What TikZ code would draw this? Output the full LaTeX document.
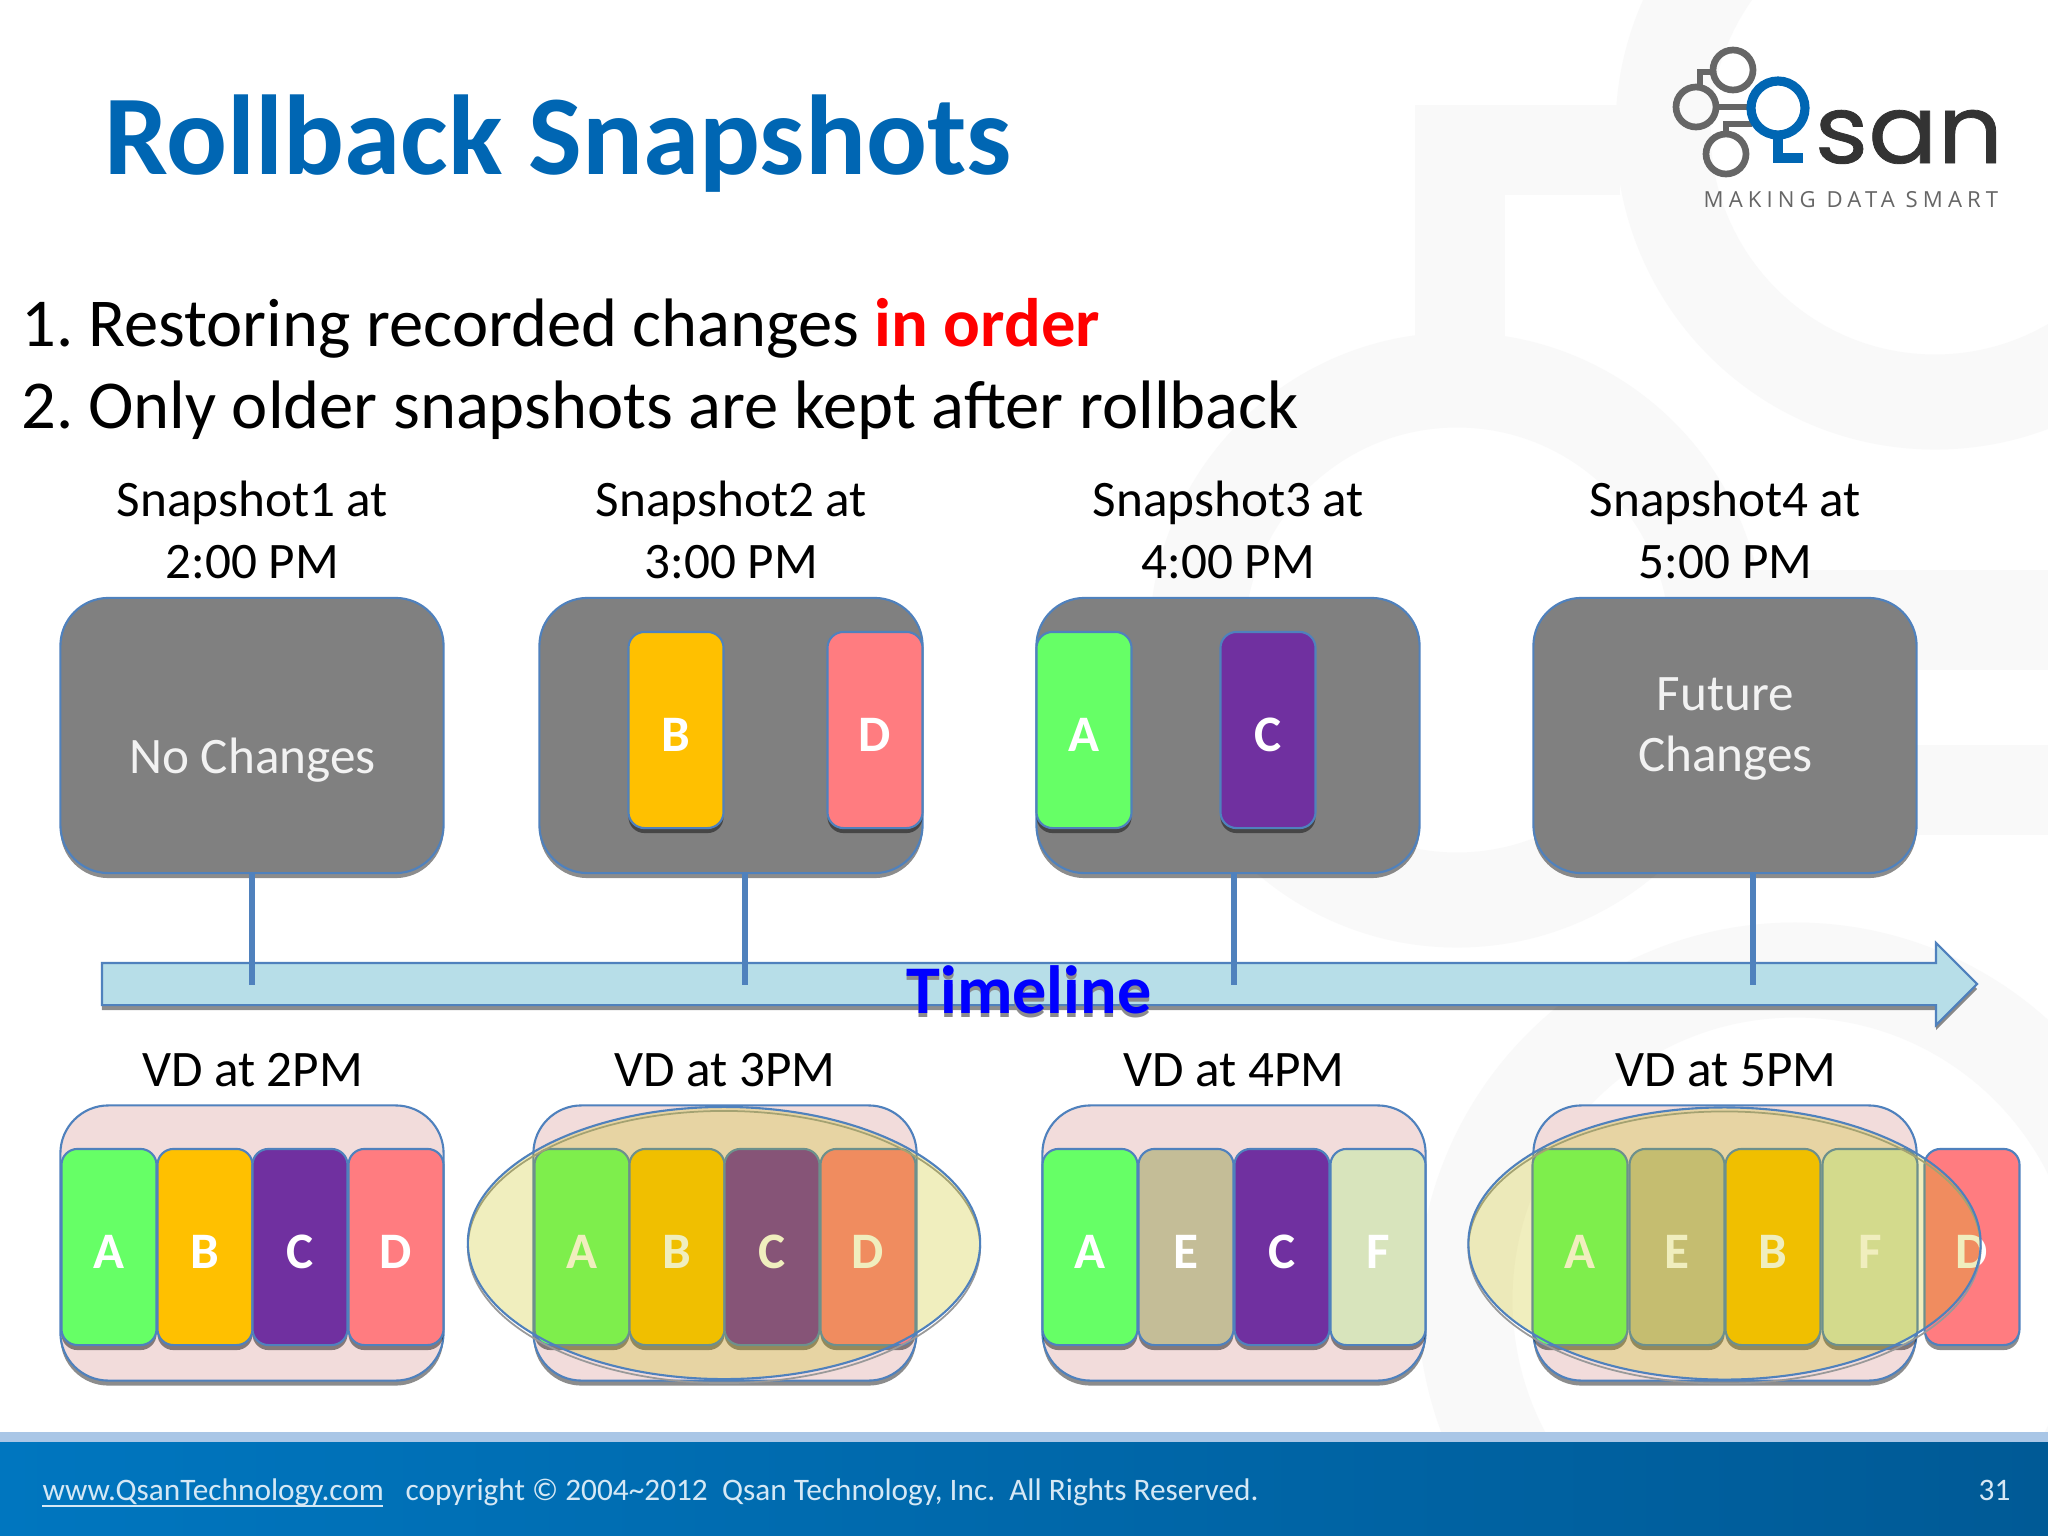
\documentclass[tikz,border=0pt]{standalone}
\usepackage{fontspec}
\setmainfont{Carlito}
\newfontfamily\logofont[FakeStretch=1.08, FakeBold=0.8]{Poppins}
\newfontfamily\tagfont[LetterSpace=23]{Open Sans}
\usetikzlibrary{positioning, calc, shapes.arrows, shapes.geometric, shadows}
\definecolor{titleblue}{HTML}{0066B3}
\definecolor{edgeblue}{HTML}{4F81BD}
\definecolor{boxgray}{HTML}{808080}
\definecolor{boxpink}{HTML}{F2DCDB}
\definecolor{chipA}{HTML}{66FF66}
\definecolor{chipB}{HTML}{FFC000}
\definecolor{chipC}{HTML}{7030A0}
\definecolor{chipD}{HTML}{FF7C80}
\definecolor{chipE}{HTML}{C4BD97}
\definecolor{chipF}{HTML}{D8E4BC}
\definecolor{lensfill}{HTML}{C8BE00}
\definecolor{arrowfill}{HTML}{B7DEE8}
\definecolor{markgray}{HTML}{F9F9F9}
\definecolor{footleft}{HTML}{0076BF}
\definecolor{footright}{HTML}{005A96}
\definecolor{footband}{HTML}{A9C6E6}
\definecolor{foottext}{HTML}{D5E8F5}
\tikzset{
	softshadow/.style={drop shadow={shadow xshift=0cm, shadow yshift=-0.05cm, opacity=0.45, fill=black}},
	snapbox/.style={shape=rectangle, rounded corners=0.48cm, minimum width=3.83cm, minimum height=2.75cm, inner sep=0, draw=edgeblue, line width=0.6pt, fill=boxgray, softshadow},
	vdbox/.style={snapbox, fill=boxpink},
	boxtext/.style={align=center, inner sep=0, text=white!95!black, font=\fontsize{14.55}{17.6}\selectfont},
	chip/.style={shape=rectangle, rounded corners=0.16cm, minimum width=0.95cm, minimum height=1.96cm, inner sep=0, text height=0.42cm, text depth=0, draw=edgeblue, line width=0.6pt, softshadow, text=white, font=\fontsize{14.55}{17.6}\bfseries\selectfont},
	lens/.style={shape=ellipse, minimum width=5.12cm, minimum height=2.72cm, inner sep=0, draw=edgeblue, line width=0.6pt, fill=lensfill, fill opacity=0.255, draw opacity=1},
	lensedge/.style={shape=ellipse, minimum width=5.12cm, minimum height=2.72cm, inner sep=0, draw=black!40, line width=0.5pt},
	caption/.style={align=center, inner sep=0, font=\fontsize{14.55}{17.6}\selectfont},
	bullet/.style={anchor=base west, inner sep=0, font=\fontsize{19.5}{23}\selectfont},
	tick/.style={draw=edgeblue, line width=1.7pt},
	footnote/.style={anchor=base west, inner sep=0, text=foottext, font=\fontsize{8.9}{10}\selectfont},
	markring/.style={draw=markgray, line width=0.95cm},
	logoring/.style={draw=black!60, line width=1.9pt},
}
\begin{document}
\begin{tikzpicture}[x=0.01cm, y=-0.01cm]
	\useasboundingbox (0, 0) rectangle (2048, 1536);
	\fill[white] (0, 0) rectangle (2048, 1536);

	\draw[markring] (1935, 130) circle (272);
	\draw[markring] (1457, 640) circle (260);
	\draw[markring] (1795, 1300) circle (330);
	\draw[draw=markgray, line width=0.9cm] (1620, 150) -- (1460, 150) -- (1460, 340);
	\fill[markgray] (1700, 570) rectangle (2048, 670);
	\fill[markgray] (1700, 745) rectangle (2048, 835);

	\draw[logoring] (1733, 70) circle (20);
	\draw[logoring] (1696, 107) circle (20);
	\draw[logoring] (1726, 154) circle (20);
	\draw[logoring] (1716, 107) -- (1752, 107);
	\draw[logoring] (1700, 86) -- (1700, 72) -- (1713, 72);
	\draw[logoring] (1726, 134) -- (1726, 124) -- (1752, 124);
	\draw[draw=titleblue, line width=2.6pt] (1778, 108) circle (27);
	\draw[draw=titleblue, line width=3pt] (1778, 135) -- (1778, 158) -- (1803, 158);
	\node[anchor=base west, inner sep=0, text=black!80, font=\fontsize{27}{30}\logofont\selectfont] (logosan) at (1814, 163) {san};
	\node[anchor=base west, inner sep=0, text=black!60, font=\fontsize{6.3}{8}\tagfont\selectfont] (logotag) at (1703, 207) {MAKING DATA SMART};

	\node[anchor=base west, inner sep=0, text=titleblue, font=\fontsize{32.3}{36}\bfseries\selectfont] (title) at (104, 174) {Rollback Snapshots};
	\node[bullet] (first) at (21, 346) {1.\hspace{-0.09em} Restoring recorded changes \textcolor{red}{\textbf{in order}}};
	\node[bullet] (second) at (21, 428) {2.\hspace{-0.09em} Only older snapshots are kept after rollback};

	\node[caption] (cap1) at (252.5, 530) {Snapshot1 at\\2:00 PM};
	\node[caption] (cap2) at (731.5, 530) {Snapshot2 at\\3:00 PM};
	\node[caption] (cap3) at (1228.5, 530) {Snapshot3 at\\4:00 PM};
	\node[caption] (cap4) at (1725.5, 530) {Snapshot4 at\\5:00 PM};

	\node[single arrow, single arrow head extend=0.2cm, minimum width=0.81cm, minimum height=18.74cm, inner xsep=0, inner ysep=0.2cm, draw=edgeblue, line width=0.6pt, fill=arrowfill, softshadow] (timeline) at (1029, 984) {};

	\node[snapbox] (snap1) at (252, 735.5) {};
	\node[snapbox] (snap2) at (731, 735.5) {};
	\node[snapbox] (snap3) at (1228, 735.5) {};
	\node[snapbox] (snap4) at (1725, 735.5) {};
	\node[boxtext] (note1) at (252.5, 760) {No Changes};
	\node[boxtext] (note4) at (1725.5, 729) {Future\\Changes};

	\node[chip, fill=chipB] (s2b) at (676, 730) {B};
	\node[chip, fill=chipD] (s2d) at (875, 730) {D};
	\node[chip, fill=chipA] (s3a) at (1084, 730) {A};
	\node[chip, fill=chipC] (s3c) at (1268, 730) {C};

	\coordinate (tick1) at (252, 985);
	\coordinate (tick2) at (745, 985);
	\coordinate (tick3) at (1234, 985);
	\coordinate (tick4) at (1753, 985);
	\draw[tick] (snap1.south) -- (tick1);
	\draw[tick] (snap2.south -| tick2) -- (tick2);
	\draw[tick] (snap3.south -| tick3) -- (tick3);
	\draw[tick] (snap4.south -| tick4) -- (tick4);

	\node[text=black!45, font=\fontsize{19.4}{23}\bfseries\selectfont, inner sep=0] (shade) at (1029, 994) {Timeline};
	\node[text=blue, font=\fontsize{19.4}{23}\bfseries\selectfont, inner sep=0] (timelabel) at (1029, 990) {Timeline};

	\node[caption] (vd1) at (252.5, 1070) {VD at 2PM};
	\node[caption] (vd2) at (725, 1070) {VD at 3PM};
	\node[caption] (vd3) at (1234, 1070) {VD at 4PM};
	\node[caption] (vd4) at (1726, 1070) {VD at 5PM};

	\node[vdbox] (box1) at (252, 1243) {};
	\node[vdbox] (box2) at (725, 1243) {};
	\node[vdbox] (box3) at (1234, 1243) {};
	\node[vdbox] (box4) at (1725, 1243) {};

	\node[chip, fill=chipA] (a1) at (109, 1247) {A};
	\node[chip, fill=chipB] (b1) at (205, 1247) {B};
	\node[chip, fill=chipC] (c1) at (300, 1247) {C};
	\node[chip, fill=chipD] (d1) at (396, 1247) {D};

	\node[chip, fill=chipA] (a2) at (582, 1247) {A};
	\node[chip, fill=chipB] (b2) at (677, 1247) {B};
	\node[chip, fill=chipC] (c2) at (772, 1247) {C};
	\node[chip, fill=chipD] (d2) at (868, 1247) {D};

	\node[chip, fill=chipA] (a3) at (1090, 1247) {A};
	\node[chip, fill=chipE] (e3) at (1186, 1247) {E};
	\node[chip, fill=chipC] (c3) at (1282, 1247) {C};
	\node[chip, fill=chipF] (f3) at (1378, 1247) {F};

	\node[chip, fill=chipA] (a4) at (1580, 1247) {A};
	\node[chip, fill=chipE] (e4) at (1677, 1247) {E};
	\node[chip, fill=chipB] (b4) at (1773, 1247) {B};
	\node[chip, fill=chipF] (f4) at (1870, 1247) {F};
	\node[chip, fill=chipD] (d4) at (1972, 1247) {D};

	\node[lensedge] (edge2) at (724, 1247) {};
	\node[lensedge] (edge4) at (1724.5, 1247.5) {};
	\node[lens] (lens2) at (724, 1243) {};
	\node[lens] (lens4) at (1724.5, 1243.5) {};

	\fill[footband] (0, 1432) rectangle (2048, 1442);
	\fill[left color=footleft, right color=footright] (0, 1442) rectangle (2048, 1536);
	\node[footnote] (site) at (42, 1500) {www.QsanTechnology.com};
	\draw[draw=foottext, line width=0.8pt] (site.base west) ++(0, 6) -- ++(341, 0);
	\node[footnote] (copy) at (405, 1500) {copyright © 2004\textasciitilde 2012\ \ Qsan Technology, Inc.\ \ All Rights Reserved.};
	\node[footnote] (page) at (1978, 1500) {31};
\end{tikzpicture}
\end{document}
